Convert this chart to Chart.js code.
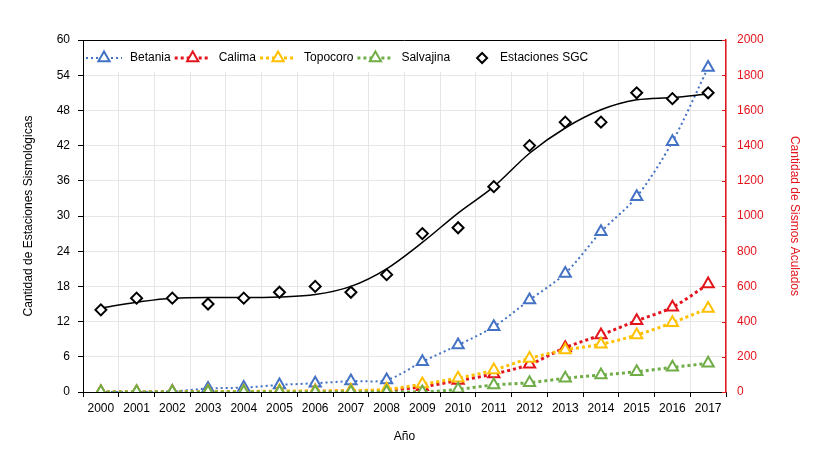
<!DOCTYPE html>
<html>
<head>
<meta charset="utf-8">
<script src="https://cdn.jsdelivr.net/npm/chart.js@4.4.1/dist/chart.umd.min.js"></script>
<style>
    html, body { margin: 0; padding: 0; background: #fff; }
    #wrap { width: 824px; height: 453px; }
</style>
</head>
<body>
<div id="wrap"><canvas id="chart"></canvas></div>
<script>
// Años (eje X)
const years = ['2000', '2001', '2002', '2003', '2004', '2005', '2006', '2007', '2008',
               '2009', '2010', '2011', '2012', '2013', '2014', '2015', '2016', '2017'];

// Sismos acumulados por embalse (eje derecho)
const betania   = [0, 0, 3, 20, 25, 40, 50, 62, 68, 172, 267, 371, 523, 674, 910, 1109, 1422, 1844];
const calima    = [0, 0, 0, 0, 0, 2, 4, 6, 10, 30, 65, 102, 157, 252, 324, 405, 481, 613];
const topocoro  = [0, 0, 0, 2, 3, 5, 6, 8, 15, 45, 78, 125, 191, 239, 271, 324, 394, 475];
const salvajina = [0, 0, 0, 0, 0, 0, 0, 0, 0, 0, 15, 40, 53, 78, 97, 115, 140, 163];

// Estaciones SGC (eje izquierdo) y su curva de tendencia
const estaciones = [14, 16, 16, 15, 16, 17, 18, 17, 20, 27, 28, 35, 42, 46, 46, 51, 50, 51];
const tendencia  = [14.3, 15.3, 16.0, 16.1, 16.1, 16.2, 16.6, 18, 21, 25.5, 30.5, 35, 40.7, 45, 48.1, 49.8, 50.2, 50.8];

const FONT = '"Liberation Sans", Arial, sans-serif';
const RED = '#e3141c';

/**
 * Dotted series with hollow triangles
 */
function reservoir(label, data, color, width, dash, order) {
    return {
        type: 'line',
        label: label,
        data: data,
        yAxisID: 'y1',
        borderColor: color,
        borderWidth: width,
        borderDash: dash,
        backgroundColor: '#fff',
        pointStyle: 'triangle',
        pointRadius: 6.5,
        pointBorderWidth: 2,
        pointBorderColor: color,
        pointBackgroundColor: '#fff',
        fill: false,
        tension: 0.3,
        order: order,
    };
}

function drawMarker(ctx, style, x, y, r) {
    ctx.beginPath();
    if (style === 'triangle') {
        ctx.moveTo(x, y - r);
        ctx.lineTo(x + r * 0.866, y + r * 0.5);
        ctx.lineTo(x - r * 0.866, y + r * 0.5);
    } else {
        ctx.moveTo(x, y - r);
        ctx.lineTo(x + r, y);
        ctx.lineTo(x, y + r);
        ctx.lineTo(x - r, y);
    }
    ctx.closePath();
    ctx.fill();
    ctx.stroke();
}

/**
 * Legend drawn inside the plot area, plus top border and inner ticks of right axis
 */
const insideLegend = {
    id: 'insideLegend',
    beforeDatasetsDraw(chart) {
        const { ctx, chartArea } = chart;
        ctx.save();
        ctx.fillStyle = '#fff';
        ctx.fillRect(chartArea.left + 1, chartArea.top + 1, 520, 31);
        ctx.font = '12px ' + FONT;
        ctx.textBaseline = 'middle';
        const y = chartArea.top + 18;
        let x = chartArea.left + 1;
        [0, 1, 2, 3, 5].forEach(i => {
            const ds = chart.data.datasets[i];
            ctx.fillStyle = '#fff';
            ctx.strokeStyle = ds.pointBorderColor;
            if (ds.showLine !== false) {
                ctx.lineWidth = ds.borderWidth;
                ctx.setLineDash(ds.borderDash);
                ctx.beginPath();
                ctx.moveTo(x + 2, y);
                ctx.lineTo(x + 38, y);
                ctx.stroke();
                ctx.setLineDash([]);
                ctx.lineWidth = 2;
                drawMarker(ctx, 'triangle', x + 20, y, 6.5);
                x += 46;
            } else {
                ctx.lineWidth = 2;
                drawMarker(ctx, 'diamond', x + 30, y, 5);
                x += 48;
            }
            ctx.fillStyle = '#000';
            ctx.fillText(ds.label, x, y);
            x += ctx.measureText(ds.label).width + 2;
        });
        ctx.restore();
    },
    afterDraw(chart) {
        const { ctx, chartArea } = chart;
        const y1 = chart.scales.y1;
        ctx.save();
        ctx.strokeStyle = '#000';
        ctx.lineWidth = 1;
        ctx.beginPath();
        ctx.moveTo(chartArea.left, chartArea.top + 0.5);
        ctx.lineTo(chartArea.right, chartArea.top + 0.5);
        ctx.stroke();
        ctx.strokeStyle = RED;
        y1.ticks.forEach(t => {
            const py = Math.round(y1.getPixelForValue(t.value)) + 0.5;
            ctx.beginPath();
            ctx.moveTo(chartArea.right - 4, py);
            ctx.lineTo(chartArea.right, py);
            ctx.stroke();
        });
        ctx.restore();
    },
};

function init() {
    const ctx = document.getElementById('chart').getContext('2d');

    new Chart(ctx, {
        type: 'line',
        data: {
            labels: years,
            datasets: [
                reservoir('Betania', betania, '#4472c4', 2, [2, 3], 5),
                reservoir('Calima', calima, RED, 3, [3, 3], 4),
                reservoir('Topocoro', topocoro, '#ffc000', 3, [3, 3], 3),
                reservoir('Salvajina', salvajina, '#70ad47', 3, [3, 3], 2),
                {
                    type: 'line',
                    label: 'Tendencia',
                    data: tendencia,
                    yAxisID: 'y',
                    borderColor: '#000',
                    borderWidth: 1.5,
                    pointRadius: 0,
                    cubicInterpolationMode: 'monotone',
                    fill: false,
                    order: 1,
                },
                {
                    type: 'line',
                    label: 'Estaciones SGC',
                    data: estaciones,
                    yAxisID: 'y',
                    showLine: false,
                    pointStyle: 'rectRot',
                    pointRadius: 5.5,
                    pointBorderWidth: 2,
                    pointBorderColor: '#000',
                    pointBackgroundColor: '#fff',
                    order: 0,
                },
            ],
        },
        options: {
            responsive: true,
            maintainAspectRatio: false,
            animation: false,
            layout: { padding: { top: 40, left: 0, right: 0, bottom: 0 } },
            plugins: {
                legend: { display: false },
                tooltip: { enabled: false },
            },
            scales: {
                x: {
                    type: 'category',
                    offset: true,
                    grid: { offset: true, color: '#e6e6e6', tickColor: '#000', tickLength: 5 },
                    border: { color: '#000', width: 1 },
                    ticks: { color: '#000', font: { family: FONT, size: 12 }, padding: 4, maxRotation: 0, autoSkip: false },
                    title: { display: true, text: 'Año', color: '#000', font: { family: FONT, size: 12 }, padding: { top: 9, bottom: 9 } },
                    afterFit(s) { s.height = 61; },
                },
                y: {
                    position: 'left',
                    min: 0,
                    max: 60,
                    ticks: { stepSize: 6, color: '#000', font: { family: FONT, size: 12 }, padding: 8 },
                    grid: { color: '#e6e6e6', tickColor: '#000', tickLength: 5 },
                    border: { color: '#000', width: 1 },
                    title: { display: true, text: 'Cantidad de Estaciones Sismológicas', color: '#000', font: { family: FONT, size: 12 }, padding: { top: 21, bottom: 0 } },
                    afterFit(s) { s.width = 83; },
                },
                y1: {
                    position: 'right',
                    min: 0,
                    max: 2000,
                    ticks: { stepSize: 200, color: RED, font: { family: FONT, size: 12 }, padding: 11, callback: v => String(v) },
                    grid: { drawOnChartArea: false, drawTicks: false },
                    border: { color: RED, width: 1.5 },
                    title: { display: true, text: 'Cantidad de Sismos Aculados', color: RED, font: { family: FONT, size: 12 }, padding: { top: 22, bottom: 0 } },
                    afterFit(s) { s.width = 98; },
                },
            },
        },
        plugins: [insideLegend],
    });
}

init();
</script>
</body>
</html>
